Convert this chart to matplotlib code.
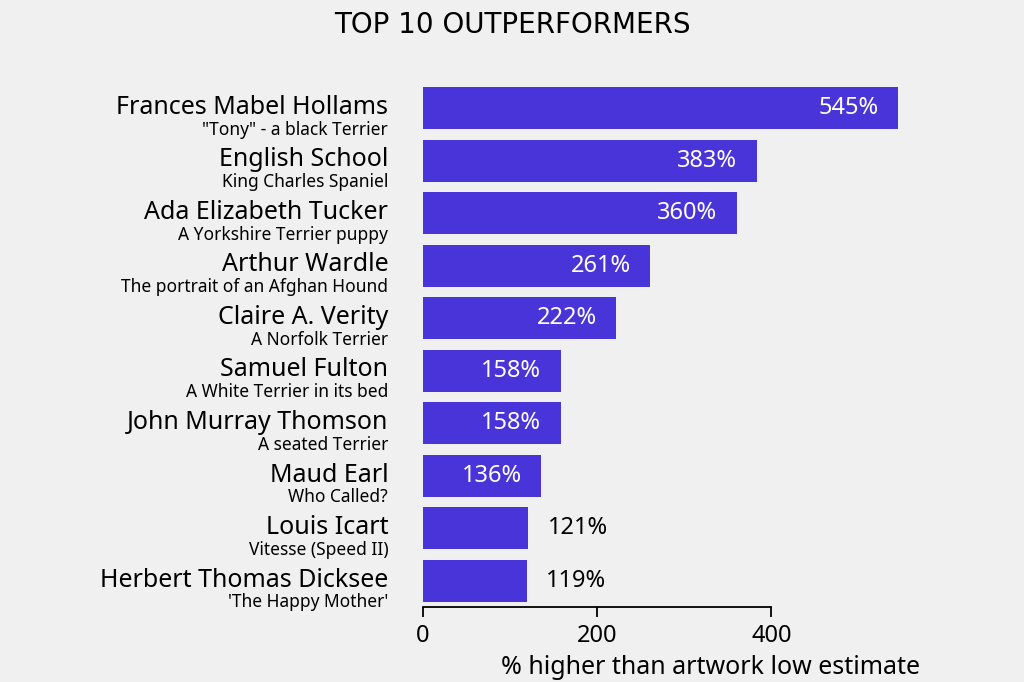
import matplotlib
matplotlib.use("Agg")
import matplotlib.pyplot as plt
from matplotlib.transforms import blended_transform_factory

artists = ["Frances Mabel Hollams", "English School", "Ada Elizabeth Tucker",
           "Arthur Wardle", "Claire A. Verity", "Samuel Fulton",
           "John Murray Thomson", "Maud Earl", "Louis Icart",
           "Herbert Thomas Dicksee"]
works = ['"Tony" - a black Terrier', "King Charles Spaniel",
         "A Yorkshire Terrier puppy", "The portrait of an Afghan Hound",
         "A Norfolk Terrier", "A White Terrier in its bed", "A seated Terrier",
         "Who Called?", "Vitesse (Speed II)", "'The Happy Mother'"]
pct = [545, 383, 360, 261, 222, 158, 158, 136, 121, 119]
xticks = [0, 200, 400]

BG = "#f0f0f0"
BAR = "#4834d9"
FONT = ["Noto Sans", "DejaVu Sans"]

fig = plt.figure(figsize=(10.24, 6.82), dpi=100)
fig.patch.set_facecolor(BG)
ax = fig.add_axes([0.413, 0.110, 0.485, 0.770])
ax.set_facecolor(BG)

ys = list(range(len(artists)))
ax.barh(ys, pct, height=0.8, color=BAR)
ax.set_ylim(len(artists) - 0.5, -0.5)
ax.set_xlim(0, 570)

for s in ["top", "right", "left"]:
    ax.spines[s].set_visible(False)
ax.spines["bottom"].set_bounds(0, 400)
ax.spines["bottom"].set_linewidth(1.3)
ax.set_yticks([])
ax.set_xticks(xticks)
ax.set_xticklabels([str(t) for t in xticks], fontsize=17, family=FONT)
ax.tick_params(axis="x", length=7, width=1.3, pad=5)
ax.set_xlabel("% higher than artwork low estimate", fontsize=18, family=FONT,
              loc="right", labelpad=5)

# artist name + artwork title stacked to the left of each bar
trans = blended_transform_factory(ax.transAxes, ax.transData)
for y, name, work in zip(ys, artists, works):
    ax.annotate(name, xy=(0, y), xycoords=trans, xytext=(-25, 0.5),
                textcoords="offset points", ha="right", va="center",
                fontsize=18, family=FONT)
    ax.annotate(work, xy=(0, y), xycoords=trans, xytext=(-25, -15.5),
                textcoords="offset points", ha="right", va="center",
                fontsize=12.5, family=FONT)

for y, v in zip(ys, pct):
    if v > 130:
        ax.annotate(f"{v}%", xy=(v, y), xytext=(-14, 0), textcoords="offset points",
                    ha="right", va="center", color="white", fontsize=17, family=FONT)
    else:
        ax.annotate(f"{v}%", xy=(v, y), xytext=(14, 0), textcoords="offset points",
                    ha="left", va="center", color="black", fontsize=17, family=FONT)

fig.text(0.5, 0.963, "TOP 10 OUTPERFORMERS", ha="center", va="center",
         fontsize=20, family="DejaVu Sans")

fig.savefig("out.png", dpi=100, facecolor=BG)
